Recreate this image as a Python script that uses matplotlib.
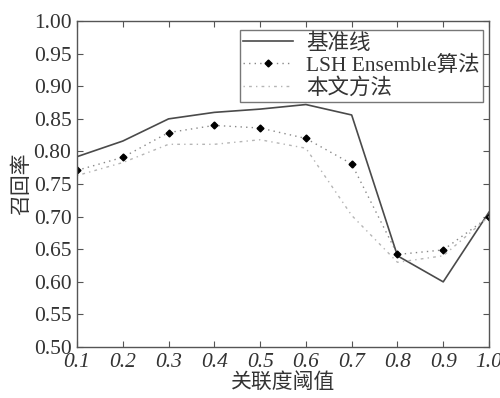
import matplotlib
matplotlib.use("Agg")
import matplotlib.pyplot as plt

plt.rcParams['font.family'] = ['Liberation Serif', 'Noto Sans CJK SC']

thresholds = [0.1, 0.2, 0.3, 0.4, 0.5, 0.6, 0.7, 0.8, 0.9, 1.0]
baseline = [0.792, 0.816, 0.850, 0.860, 0.865, 0.872, 0.856, 0.640, 0.600, 0.707]
lsh_ensemble = [0.771, 0.791, 0.829, 0.840, 0.836, 0.820, 0.781, 0.642, 0.649, 0.700]
ours = [0.763, 0.783, 0.811, 0.811, 0.818, 0.805, 0.702, 0.630, 0.640, 0.700]

labels = ['基准线', 'LSH Ensemble算法', '本文方法']
yticks = [0.50, 0.55, 0.60, 0.65, 0.70, 0.75, 0.80, 0.85, 0.90, 0.95, 1.00]

fig = plt.figure(figsize=(5.0, 3.98), dpi=100)
ax = fig.add_axes([0.154, 0.128, 0.824, 0.819])

ax.plot(thresholds, baseline, color='#4a4a4a', lw=1.2, label=labels[0])
ax.plot(thresholds, lsh_ensemble, color='#888888', lw=1.0, ls=(0, (1, 3)),
        marker='D', markersize=3.5, markerfacecolor='black', markeredgecolor='black',
        label=labels[1])
ax.plot(thresholds, ours, color='#b5b5b5', lw=1.0, ls=(0, (1, 3, 2, 3)), label=labels[2])

ax.set_xlim(0.1, 1.0)
ax.set_ylim(0.5, 1.0)
ax.set_xticks(thresholds)
ax.set_xticklabels([f'{t:.1f}' for t in thresholds], fontstyle='italic', fontsize=15.5, color='#333333')
ax.set_yticks(yticks)
ax.set_yticklabels([f'{v:.2f}' for v in yticks], fontsize=15.5, color='#333333')
ax.tick_params(direction='in', top=True, right=True, length=4, color='#555555', pad=4)
for s in ax.spines.values():
    s.set_color('#555555')
    s.set_linewidth(1.0)

ax.set_xlabel('关联度阈值', fontsize=15, color='#333333', labelpad=1)
ax.set_ylabel('召回率', fontsize=15, color='#333333', labelpad=1)

leg = ax.legend(loc='upper right', bbox_to_anchor=(0.995, 0.985), fontsize=15.5, frameon=True,
                fancybox=False, edgecolor='#555555', handlelength=2.3, handletextpad=0.6,
                borderpad=0.15, labelspacing=0.08, borderaxespad=0.2)
leg.get_frame().set_linewidth(1.0)
for t in leg.get_texts():
    t.set_color('#333333')

fig.savefig('out.png', dpi=100)
